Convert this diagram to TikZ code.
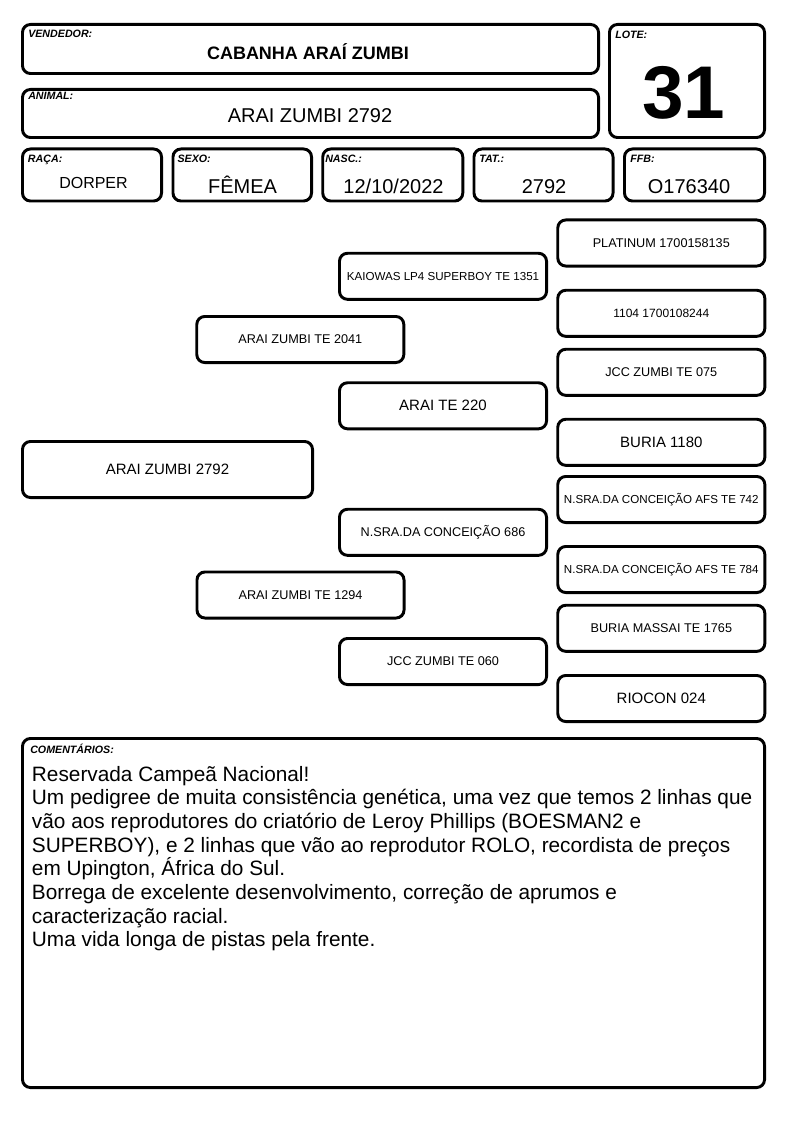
\documentclass[tikz,border=0pt]{standalone}
\usepackage{fontspec}
\setmainfont{Liberation Sans}
\begin{document}
\begin{tikzpicture}[x=0.75pt,y=-0.75pt,
 box/.style 2 args={draw=black, line width=2.2pt, rounded corners=6pt, inner sep=0pt,
   minimum width=#1*0.75pt-2.2pt, minimum height=#2*0.75pt-2.2pt},
 lbl/.style={anchor=base west, inner sep=0pt, font=\fontsize{8}{8}\selectfont\bfseries\itshape},
 val/.style={anchor=base, inner sep=0pt},
 pb/.style={box={210}{49}, align=center},
 big/.style={font=\fontsize{11.25}{12}\selectfont},
 mid/.style={font=\fontsize{9.5}{10}\selectfont},
 sml/.style={font=\fontsize{8.7}{9}\selectfont},
 cline/.style={anchor=base west, inner sep=0pt, font=\fontsize{15.6}{17.85}\selectfont}]
\useasboundingbox (0,0) rectangle (794,1123);
% header boxes
\node[box={579}{52}] (vend) at (310.5,49) {};
\node[box={579}{51}] (anim) at (310.5,113.5) {};
\node[box={158}{116}] (lote) at (687,81) {};
\node[box={142}{55}] (raca) at (92,175) {};
\node[box={141.5}{55}] (sexo) at (242.25,175) {};
\node[box={143}{55}] (nasc) at (392.75,175) {};
\node[box={142}{55}] (tat) at (543.5,175) {};
\node[box={143}{55}] (ffb) at (694.5,175) {};
% labels
\node[lbl] (lvend) at (28,38) {VENDEDOR:};
\node[lbl] (lanim) at (28,100) {ANIMAL:};
\node[lbl] (llote) at (615,38.3) {LOTE:};
\node[lbl] (lraca) at (27.7,162.7) {RAÇA:};
\node[lbl] (lsexo) at (177.3,162.7) {SEXO:};
\node[lbl] (lnasc) at (325,162.7) {NASC.:};
\node[lbl] (ltat) at (479,162.7) {TAT.:};
\node[lbl] (lffb) at (630,162.7) {FFB:};
% values
\node[val, font=\fontsize{13.5}{14}\selectfont\bfseries] (tvend) at (308,60) {CABANHA ARAÍ ZUMBI};
\node[val, font=\fontsize{15}{16}\selectfont] (tanim) at (310,122.7) {ARAI ZUMBI 2792};
\node[val, font=\fontsize{56}{56}\selectfont\bfseries] (tlote) at (684,119) {31};
\node[val, font=\fontsize{12}{13}\selectfont] (traca) at (93.5,188.3) {DORPER};
\node[val, font=\fontsize{15}{16}\selectfont] (tsexo) at (242.5,193.3) {FÊMEA};
\node[val, font=\fontsize{15}{16}\selectfont] (tnasc) at (393.5,193.3) {12/10/2022};
\node[val, font=\fontsize{15}{16}\selectfont] (ttat) at (544,193.3) {2792};
\node[val, font=\fontsize{15}{16}\selectfont] (tffb) at (689,193.3) {O176340};
% pedigree
\node[box={293}{59}, big] (p0) at (167.5,469.5) {ARAI ZUMBI 2792};
\node[pb, mid] (p1) at (300.3,339.5) {ARAI ZUMBI TE 2041};
\node[pb, mid] (p2) at (300.5,595) {ARAI ZUMBI TE 1294};
\node[pb, sml] (g3a) at (443,276.3) {KAIOWAS LP4 SUPERBOY TE 1351};
\node[pb, big] (g3b) at (443,405.8) {ARAI TE 220};
\node[pb, mid] (g3c) at (443,532.3) {N.SRA.DA CONCEIÇÃO 686};
\node[pb, mid] (g3d) at (443,661.5) {JCC ZUMBI TE 060};
\node[pb, mid] (g4a) at (661.3,243) {PLATINUM 1700158135};
\node[pb, font=\fontsize{9}{9}\selectfont] (g4b) at (661.3,313.3) {1104 1700108244};
\node[pb, mid] (g4c) at (661.3,372.3) {JCC ZUMBI TE 075};
\node[pb, big] (g4d) at (661.3,442.3) {BURIA 1180};
\node[pb, sml] (g4e) at (661.3,499.5) {N.SRA.DA CONCEIÇÃO AFS TE 742};
\node[pb, sml] (g4f) at (661.3,569.5) {N.SRA.DA CONCEIÇÃO AFS TE 784};
\node[pb, mid] (g4g) at (661.3,628.3) {BURIA MASSAI TE 1765};
\node[pb, big] (g4h) at (661.3,698.5) {RIOCON 024};
% comments
\node[box={745}{352}] (com) at (393.5,913) {};
\node[lbl] (lcom) at (30,753) {COMENTÁRIOS:};
\node[cline] (c1) at (31.7,781) {Reservada Campeã Nacional!};
\node[cline] (c2) at (31.7,804.7) {Um pedigree de muita consistência genética, uma vez que temos 2 linhas que};
\node[cline] (c3) at (31.7,828.4) {vão aos reprodutores do criatório de Leroy Phillips (BOESMAN2 e};
\node[cline] (c4) at (31.7,852.1) {SUPERBOY), e 2 linhas que vão ao reprodutor ROLO, recordista de preços};
\node[cline] (c5) at (31.7,875.8) {em Upington, África do Sul.};
\node[cline] (c6) at (31.7,899.5) {Borrega de excelente desenvolvimento, correção de aprumos e};
\node[cline] (c7) at (31.7,923.2) {caracterização racial.};
\node[cline] (c8) at (31.7,946.9) {Uma vida longa de pistas pela frente.};
\end{tikzpicture}
\end{document}
